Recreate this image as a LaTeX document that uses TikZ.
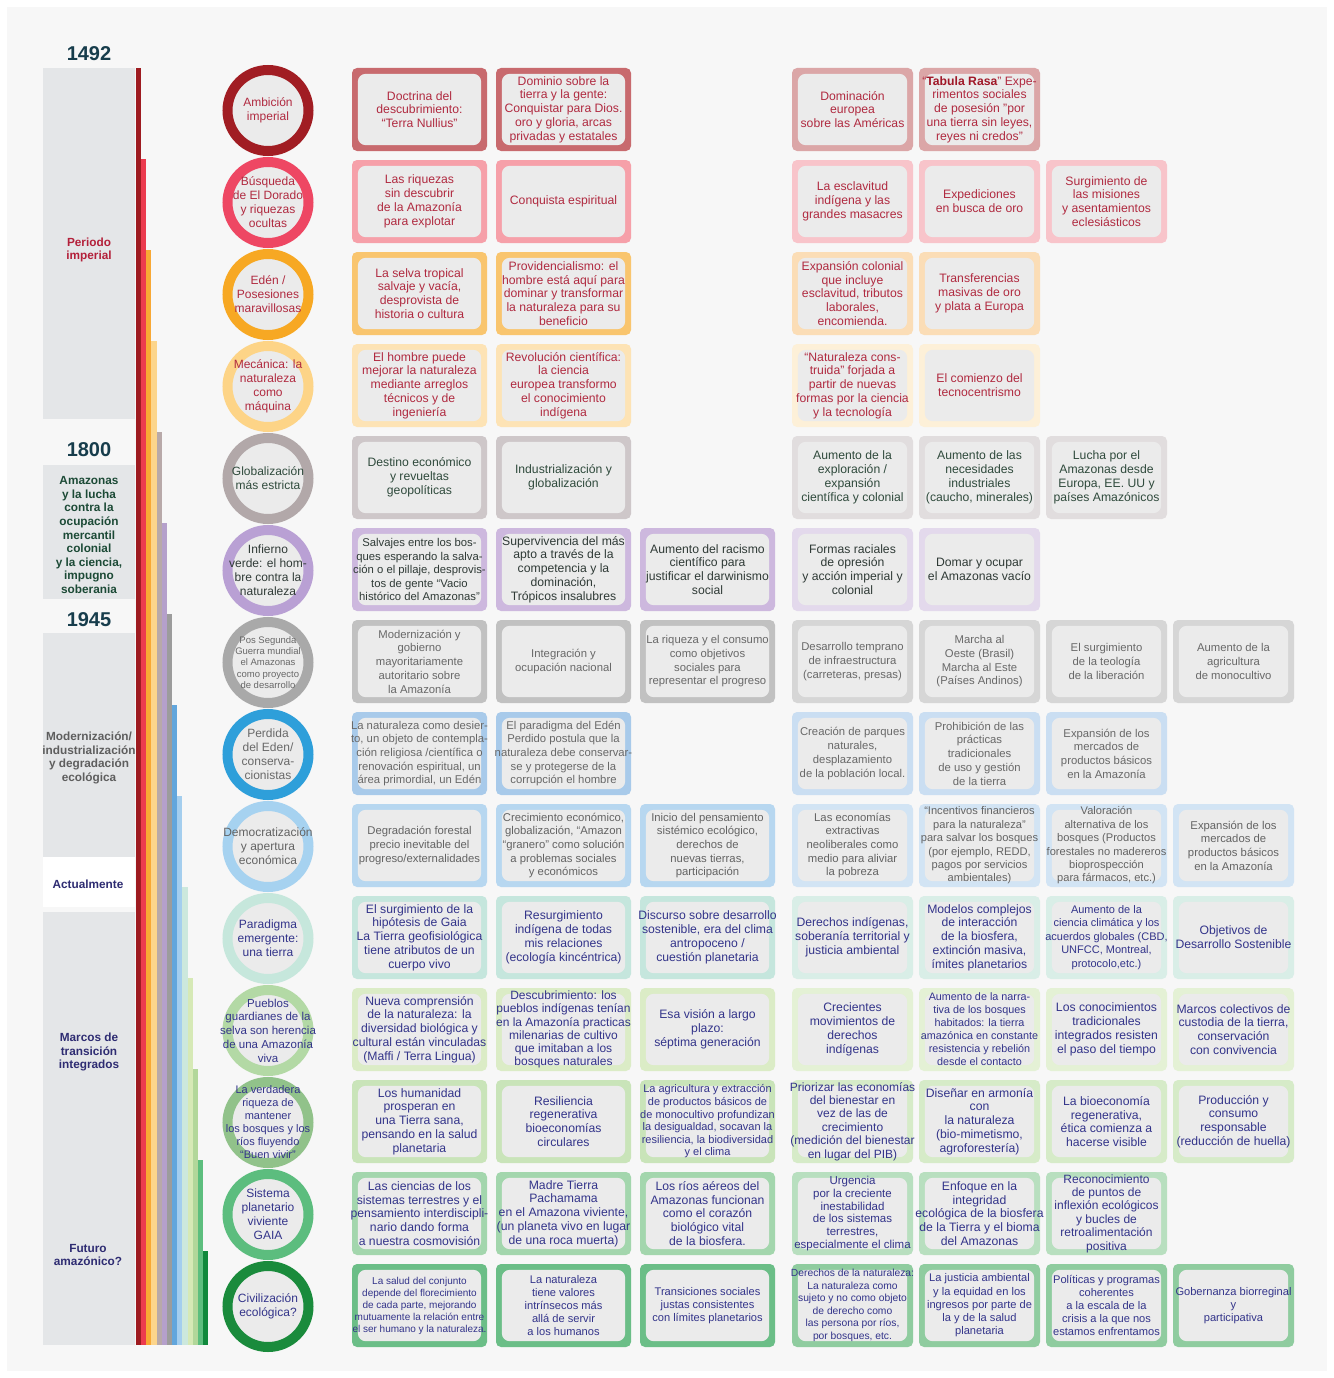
\documentclass[tikz,border=0pt]{standalone}
\usepackage{fontspec}
\setmainfont{Liberation Sans}
\usetikzlibrary{calc}

\definecolor{bg}{HTML}{F7F7F7}
\definecolor{panel}{HTML}{E4E6E8}
\definecolor{inner}{HTML}{EBEBEB}
\definecolor{yearc}{HTML}{173D4C}
\definecolor{crim}{HTML}{B3203A}
\definecolor{dkgreen}{HTML}{1C4A36}
\definecolor{greyt}{HTML}{5E5E5E}
\definecolor{navy}{HTML}{2E2C72}
\definecolor{tabula}{HTML}{A01828}
% text colours per row
\definecolor{t1}{HTML}{B02A40}\definecolor{t2}{HTML}{B02A40}
\definecolor{t3}{HTML}{B02A40}\definecolor{t4}{HTML}{B02A40}
\definecolor{t5}{HTML}{2F4A3C}\definecolor{t6}{HTML}{2F3A36}
\definecolor{t7}{HTML}{686868}\definecolor{t8}{HTML}{686868}
\definecolor{t9}{HTML}{636363}
\definecolor{t10}{HTML}{33348A}\definecolor{t11}{HTML}{33348A}
\definecolor{t12}{HTML}{33348A}\definecolor{t13}{HTML}{33348A}
\definecolor{t14}{HTML}{33348A}
% ring colours
\definecolor{cr1}{HTML}{A11D23}\definecolor{cr2}{HTML}{EE4763}
\definecolor{cr3}{HTML}{F7A823}\definecolor{cr4}{HTML}{FDD487}
\definecolor{cr5}{HTML}{B2A8A9}\definecolor{cr6}{HTML}{B9A0D4}
\definecolor{cr7}{HTML}{A9A9A9}\definecolor{cr8}{HTML}{2E9FDA}
\definecolor{cr9}{HTML}{A6D2F0}\definecolor{cr10}{HTML}{C6E7DC}
\definecolor{cr11}{HTML}{B3D9A5}\definecolor{cr12}{HTML}{91C28A}
\definecolor{cr13}{HTML}{5CBD7E}\definecolor{cr14}{HTML}{1A8B3C}
% bar colours
\definecolor{b1}{HTML}{9E1B20}\definecolor{b2}{HTML}{EC3A4E}
\definecolor{b3}{HTML}{F8A834}\definecolor{b4}{HTML}{FCD58B}
\definecolor{b5}{HTML}{B8A9A9}\definecolor{b6}{HTML}{B5A0CB}
\definecolor{b7}{HTML}{9C9C9C}\definecolor{b8}{HTML}{62A6DC}
\definecolor{b9}{HTML}{A4CEEE}\definecolor{b10}{HTML}{CCE8DD}
\definecolor{b11}{HTML}{D6E9B6}\definecolor{b12}{HTML}{B2D79A}
\definecolor{b13}{HTML}{5DBE7E}\definecolor{b14}{HTML}{10893C}
% card frame colours (left / right group)
\definecolor{fL1}{HTML}{C86A6E}\definecolor{fR1}{HTML}{DBA6A7}
\definecolor{fL2}{HTML}{F6A0A9}\definecolor{fR2}{HTML}{F8C4CA}
\definecolor{fL3}{HTML}{F9C56E}\definecolor{fR3}{HTML}{FBDDB6}
\definecolor{fL4}{HTML}{FDE3B5}\definecolor{fR4}{HTML}{FDF0D8}
\definecolor{fL5}{HTML}{CEC7C9}\definecolor{fR5}{HTML}{E1DDDE}
\definecolor{fL6}{HTML}{CDB8DE}\definecolor{fR6}{HTML}{E3D9EC}
\definecolor{fL7}{HTML}{C1C1C1}\definecolor{fR7}{HTML}{D6D6D6}
\definecolor{fL8}{HTML}{A8CAEA}\definecolor{fR8}{HTML}{CADEF2}
\definecolor{fL9}{HTML}{B7D7F0}\definecolor{fR9}{HTML}{D2E4F4}
\definecolor{fL10}{HTML}{C5E6DD}\definecolor{fR10}{HTML}{D9EEE7}
\definecolor{fL11}{HTML}{DBECC6}\definecolor{fR11}{HTML}{E4F1D5}
\definecolor{fL12}{HTML}{C9E4B9}\definecolor{fR12}{HTML}{D6EBC8}
\definecolor{fL13}{HTML}{A3D6AD}\definecolor{fR13}{HTML}{B8DFBF}
\definecolor{fL14}{HTML}{6BBE87}\definecolor{fR14}{HTML}{8FCC9F}

\newcommand\fs[2]{\fontsize{#1}{#2}\selectfont}

\tikzset{
  cardframe/.style={rectangle, rounded corners=5pt, minimum height=83pt, inner sep=0pt, draw=none},
  cardin/.style={fill=inner, rounded corners=8pt},
  cardtxt/.style={align=center, inner sep=0pt, font=\fs{12.2}{13.8}},
  ring/.style={circle, minimum size=81pt, line width=10pt, fill=inner, inner sep=0pt},
  ringtxt/.style={align=center, inner sep=0pt, font=\fs{12}{14}},
  sidelabel/.style={align=center, inner sep=0pt, font=\bfseries\fs{11.8}{13.6}},
  yearlabel/.style={inner sep=0pt, font=\bfseries\fs{20}{22}, text=yearc},
  r1/.style={}, r2/.style={}, r3/.style={}, r4/.style={}, r5/.style={},
  r6/.style={}, r7/.style={font=\fs{11.3}{13.7}}, r8/.style={font=\fs{11.3}{13.7}},
  r9/.style={font=\fs{11.3}{13.7}}, r10/.style={}, r11/.style={}, r12/.style={},
  r13/.style={}, r14/.style={font=\fs{11.1}{13.2}}
}

\newcommand\cardL[5][]{%
  \pgfmathsetmacro\cardx{419.5+144*(#3-1)}%
  \pgfmathsetmacro\cardy{109.5+92*(#4-1)}%
  \node[cardframe, fill=fL#4, minimum width=135pt] (#2) at (\cardx,\cardy) {};%
  \fill[cardin] ($(#2.north west)+(6,6)$) rectangle ($(#2.south east)+(-6,-6)$);%
  \node[cardtxt, r#4, text=t#4, #1] (#2t) at (#2) {#5};%
}
\newcommand\cardR[5][]{%
  \pgfmathsetmacro\cardx{852.5+127*(#3-1)}%
  \pgfmathsetmacro\cardy{109.5+92*(#4-1)}%
  \node[cardframe, fill=fR#4, minimum width=121pt] (#2) at (\cardx,\cardy) {};%
  \fill[cardin] ($(#2.north west)+(6,6)$) rectangle ($(#2.south east)+(-6,-6)$);%
  \node[cardtxt, r#4, text=t#4, #1] (#2t) at (#2) {#5};%
}
\newcommand\ringrow[4][]{%
  \pgfmathsetmacro\cardy{110.5+92*(#3-1)}%
  \node[ring, draw=cr#3] (#2) at (268,\cardy) {};%
  \node[ringtxt, text=t#3, #1] (#2t) at (#2) {#4};%
}

\begin{document}
\begin{tikzpicture}[x=1pt,y=-1pt]
\useasboundingbox (0,0) rectangle (1333,1378);
\fill[white] (0,0) rectangle (1333,1378);
\fill[bg] (7,7) rectangle (1327,1371);

% left panels
\fill[panel] (43,68) rectangle (135,419);
\fill[panel] (43,465) rectangle (135,599);
\fill[panel] (43,633) rectangle (135,857);
\fill[white] (43,857) rectangle (135,907);
\fill[panel] (43,912) rectangle (135,1345);

% years and period labels
\node[yearlabel] (y1492) at (89,54) {1492};
\node[yearlabel] (y1800) at (89,450) {1800};
\node[yearlabel] (y1945) at (89,620) {1945};
\node[sidelabel, text=crim] (lab1) at (89,250) {Periodo\\imperial};
\node[sidelabel, text=dkgreen] (lab2) at (89,535) {Amazonas\\y la lucha\\contra la\\ocupación\\mercantil\\colonial\\y la ciencia,\\impugno\\soberania};
\node[sidelabel, text=greyt] (lab3) at (89,758) {Modernización/\\industrialización\\y degradación\\ecológica};
\node[sidelabel, text=navy] (lab4) at (88,884) {Actualmente};
\node[sidelabel, text=navy] (lab5) at (89,1052) {Marcos de\\transición\\integrados};
\node[sidelabel, text=navy] (lab6) at (88,1255) {Futuro\\amazónico?};

% colour bars
\foreach \i in {1,...,14}{
  \fill[b\i] ({136+5.15*(\i-1)},{68+91*(\i-1)}) rectangle ({136+5.15*\i},1345);
}

% circles
\ringrow{c1}{1}{Ambición\\imperial}
\ringrow{c2}{2}{Búsqueda\\de El Dorado\\y riquezas\\ocultas}
\ringrow{c3}{3}{Edén /\\Posesiones\\maravillosas}
\ringrow{c4}{4}{Mecánica: la\\naturaleza\\como\\máquina}
\ringrow{c5}{5}{Globalización\\más estricta}
\ringrow{c6}{6}{Infierno\\verde: el hom-\\bre contra la\\naturaleza}
\ringrow[font=\fs{9.5}{11.3}]{c7}{7}{Pos Segunda\\Guerra mundial\\el Amazonas\\como proyecto\\de desarrollo}
\ringrow{c8}{8}{Perdida\\del Eden/\\conserva-\\cionistas}
\ringrow{c9}{9}{Democratización\\y apertura\\económica}
\ringrow{c10}{10}{Paradigma\\emergente:\\una tierra}
\ringrow[font=\fs{11.5}{13.8}]{c11}{11}{Pueblos\\guardianes de la\\selva son herencia\\de una Amazonía\\viva}
\ringrow[font=\fs{11}{13}]{c12}{12}{La verdadera\\riqueza de\\mantener\\los bosques y los\\ríos fluyendo\\“Buen vivir”}
\ringrow{c13}{13}{Sistema\\planetario\\viviente\\GAIA}
\ringrow{c14}{14}{Civilización\\ecológica?}

% row 1
\cardL{a11}{1}{1}{Doctrina del\\descubrimiento:\\“Terra Nullius”}
\cardL{a12}{2}{1}{Dominio sobre la\\tierra y la gente:\\Conquistar para Dios.\\oro y gloria, arcas\\privadas y estatales}
\cardR{a14}{1}{1}{Dominación\\europea\\sobre las Américas}
\cardR{a15}{2}{1}{“\textbf{\textcolor{tabula}{Tabula Rasa}}” Expe-\\rimentos sociales\\de posesión "por\\una tierra sin leyes,\\reyes ni credos"}
% row 2
\cardL{a21}{1}{2}{Las riquezas\\sin descubrir\\de la Amazonía\\para explotar}
\cardL{a22}{2}{2}{Conquista espiritual}
\cardR{a24}{1}{2}{La esclavitud\\indígena y las\\grandes masacres}
\cardR{a25}{2}{2}{Expediciones\\en busca de oro}
\cardR{a26}{3}{2}{Surgimiento de\\las misiones\\y asentamientos\\eclesiásticos}
% row 3
\cardL{a31}{1}{3}{La selva tropical\\salvaje y vacía,\\desprovista de\\historia o cultura}
\cardL{a32}{2}{3}{Providencialismo: el\\hombre está aquí para\\dominar y transformar\\la naturaleza para su\\beneficio}
\cardR{a34}{1}{3}{Expansión colonial\\que incluye\\esclavitud, tributos\\laborales,\\encomienda.}
\cardR{a35}{2}{3}{Transferencias\\masivas de oro\\y plata a Europa}
% row 4
\cardL{a41}{1}{4}{El hombre puede\\mejorar la naturaleza\\mediante arreglos\\técnicos y de\\ingeniería}
\cardL{a42}{2}{4}{Revolución científica:\\la ciencia\\europea transformo\\el conocimiento\\indígena}
\cardR{a44}{1}{4}{“Naturaleza cons-\\truida” forjada a\\partir de nuevas\\formas por la ciencia\\y la tecnología}
\cardR{a45}{2}{4}{El comienzo del\\tecnocentrismo}
% row 5
\cardL{a51}{1}{5}{Destino económico\\y revueltas\\geopolíticas}
\cardL{a52}{2}{5}{Industrialización y\\globalización}
\cardR{a54}{1}{5}{Aumento de la\\exploración /\\expansión\\científica y colonial}
\cardR{a55}{2}{5}{Aumento de las\\necesidades\\industriales\\(caucho, minerales)}
\cardR{a56}{3}{5}{Lucha por el\\Amazonas desde\\Europa, EE. UU y\\países Amazónicos}
% row 6
\cardL[font=\fs{11.3}{13.5}]{a61}{1}{6}{Salvajes entre los bos-\\ques esperando la salva-\\ción o el pillaje, desprovis-\\tos de gente “Vacio\\histórico del Amazonas”}
\cardL{a62}{2}{6}{Supervivencia del más\\apto a través de la\\competencia y la\\dominación,\\Trópicos insalubres}
\cardL{a63}{3}{6}{Aumento del racismo\\científico para\\justificar el darwinismo\\social}
\cardR{a64}{1}{6}{Formas raciales\\de opresión\\y acción imperial y\\colonial}
\cardR{a65}{2}{6}{Domar y ocupar\\el Amazonas vacío}
% row 7
\cardL{a71}{1}{7}{Modernización y\\gobierno\\mayoritariamente\\autoritario sobre\\la Amazonía}
\cardL{a72}{2}{7}{Integración y\\ocupación nacional}
\cardL{a73}{3}{7}{La riqueza y el consumo\\como objetivos\\sociales para\\representar el progreso}
\cardR{a74}{1}{7}{Desarrollo temprano\\de infraestructura\\(carreteras, presas)}
\cardR{a75}{2}{7}{Marcha al\\Oeste (Brasil)\\Marcha al Este\\(Países Andinos)}
\cardR{a76}{3}{7}{El surgimiento\\de la teología\\de la liberación}
\cardR{a77}{4}{7}{Aumento de la\\agricultura\\de monocultivo}
% row 8
\cardL{a81}{1}{8}{La naturaleza como desier-\\to, un objeto de contempla-\\ción religiosa /científica o\\renovación espiritual, un\\área primordial, un Edén}
\cardL{a82}{2}{8}{El paradigma del Edén\\Perdido postula que la\\naturaleza debe conservar-\\se y protegerse de la\\corrupción el hombre}
\cardR{a84}{1}{8}{Creación de parques\\naturales,\\desplazamiento\\de la población local.}
\cardR{a85}{2}{8}{Prohibición de las\\prácticas\\tradicionales\\de uso y gestión\\de la tierra}
\cardR{a86}{3}{8}{Expansión de los\\mercados de\\productos básicos\\en la Amazonía}
% row 9
\cardL{a91}{1}{9}{Degradación forestal\\precio inevitable del\\progreso/externalidades}
\cardL{a92}{2}{9}{Crecimiento económico,\\globalización, “Amazon\\“granero” como solución\\a problemas sociales\\y económicos}
\cardL{a93}{3}{9}{Inicio del pensamiento\\sistémico ecológico,\\derechos de\\nuevas tierras,\\participación}
\cardR{a94}{1}{9}{Las economías\\extractivas\\neoliberales como\\medio para aliviar\\la pobreza}
\cardR[font=\fs{11.1}{13.4}]{a95}{2}{9}{“Incentivos financieros\\para la  naturaleza”\\para salvar los bosques\\(por ejemplo, REDD,\\pagos por servicios\\ambientales)}
\cardR[font=\fs{11.1}{13.4}]{a96}{3}{9}{Valoración\\alternativa de los\\bosques (Productos\\forestales no madereros\\bioprospección\\para fármacos, etc.)}
\cardR{a97}{4}{9}{Expansión de los\\mercados de\\productos básicos\\en la Amazonía}
% row 10
\cardL{b01}{1}{10}{El surgimiento de la\\hipótesis de Gaia\\La Tierra geofisiológica\\tiene atributos de un\\cuerpo vivo}
\cardL{b02}{2}{10}{Resurgimiento\\indígena de todas\\mis relaciones\\(ecología kincéntrica)}
\cardL{b03}{3}{10}{Discurso sobre desarrollo\\sostenible, era del clima\\antropoceno /\\cuestión planetaria}
\cardR{b04}{1}{10}{Derechos indígenas,\\soberanía territorial y\\justicia ambiental}
\cardR{b05}{2}{10}{Modelos complejos\\de interacción\\de la biosfera,\\extinción masiva,\\ímites planetarios}
\cardR[font=\fs{11}{13.6}]{b06}{3}{10}{Aumento de la\\ciencia climática y los\\acuerdos globales (CBD,\\UNFCC, Montreal,\\protocolo,etc.)}
\cardR{b07}{4}{10}{Objetivos de\\Desarrollo Sostenible}
% row 11
\cardL{b11}{1}{11}{Nueva comprensión\\de la naturaleza: la\\diversidad biológica y\\cultural están vinculadas\\(Maffi / Terra Lingua)}
\cardL[font=\fs{12}{13.2}]{b12}{2}{11}{Descubrimiento: los\\pueblos indígenas tenían\\en la Amazonía practicas\\milenarias  de cultivo\\que imitaban a los\\bosques naturales}
\cardL{b13}{3}{11}{Esa visión a largo\\plazo:\\séptima generación}
\cardR{b14}{1}{11}{Crecientes\\movimientos de\\derechos\\indígenas}
\cardR[font=\fs{10.8}{13}]{b15}{2}{11}{Aumento de la narra-\\tiva de los bosques\\habitados: la tierra\\amazónica en constante\\resistencia y rebelión\\desde el contacto}
\cardR{b16}{3}{11}{Los conocimientos\\tradicionales\\integrados resisten\\el paso del tiempo}
\cardR{b17}{4}{11}{Marcos colectivos de\\custodia de la tierra,\\conservación\\con convivencia}
% row 12
\cardL{b21}{1}{12}{Los  humanidad\\prosperan en\\una Tierra sana,\\pensando en la salud\\planetaria}
\cardL{b22}{2}{12}{Resiliencia\\regenerativa\\bioeconomías\\circulares}
\cardL[font=\fs{11}{12.6}]{b23}{3}{12}{La agricultura y extracción\\de productos básicos de\\de monocultivo profundizan\\la desigualdad,  socavan la\\resiliencia, la biodiversidad\\y el clima}
\cardR[font=\fs{12}{13.4}]{b24}{1}{12}{Priorizar las economías\\del bienestar en\\vez de las de\\crecimiento\\(medición del bienestar\\en lugar del PIB)}
\cardR{b25}{2}{12}{Diseñar en armonía\\con\\la naturaleza\\(bio-mimetismo,\\agroforestería)}
\cardR{b26}{3}{12}{La bioeconomía\\regenerativa,\\ética comienza a\\hacerse visible}
\cardR{b27}{4}{12}{Producción y\\consumo\\responsable\\(reducción de huella)}
% row 13
\cardL{b31}{1}{13}{Las ciencias de los\\sistemas terrestres y el\\pensamiento  interdiscipli-\\nario dando forma\\a nuestra cosmovisión}
\cardL{b32}{2}{13}{Madre Tierra\\Pachamama\\en el  Amazona viviente,\\(un planeta vivo en lugar\\de una roca muerta)}
\cardL{b33}{3}{13}{Los ríos aéreos  del\\Amazonas funcionan\\como el corazón\\biológico vital\\de la biosfera.}
\cardR[font=\fs{11.5}{12.9}]{b34}{1}{13}{Urgencia\\por la creciente\\inestabilidad\\de los sistemas\\terrestres,\\especialmente el clima}
\cardR{b35}{2}{13}{Enfoque en la\\integridad\\ecológica de la biosfera\\de la Tierra y el bioma\\del Amazonas}
\cardR[font=\fs{12}{13.4}]{b36}{3}{13}{Reconocimiento\\de puntos de\\inflexión ecológicos\\y bucles de\\retroalimentación\\positiva}
% row 14
\cardL[font=\fs{10}{12}]{b41}{1}{14}{La salud del conjunto\\depende del florecimiento\\de cada parte, mejorando\\mutuamente la relación entre\\el ser humano y la naturaleza.}
\cardL{b42}{2}{14}{La naturaleza\\tiene valores\\intrínsecos más\\allá de servir\\a los humanos}
\cardL{b43}{3}{14}{Transiciones sociales\\justas consistentes\\con límites planetarios}
\cardR[font=\fs{10.3}{12.5}]{b44}{1}{14}{Derechos de la naturaleza:\\La naturaleza como\\sujeto y no como objeto\\de derecho como\\las persona por ríos,\\por bosques, etc.}
\cardR{b45}{2}{14}{La justicia ambiental\\y la equidad en los\\ingresos por parte de\\la y de la salud\\planetaria}
\cardR{b46}{3}{14}{Políticas y programas\\coherentes\\a la escala de la\\crisis a la que nos\\estamos enfrentamos}
\cardR{b47}{4}{14}{Gobernanza biorreginal\\y\\participativa}
\end{tikzpicture}
\end{document}
